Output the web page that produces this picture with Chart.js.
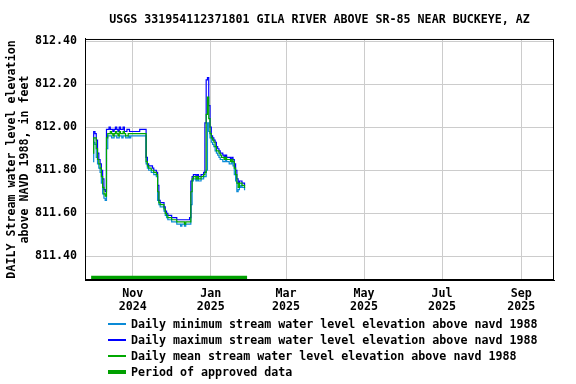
<!DOCTYPE html>
<html>
<head>
<meta charset="utf-8">
<script src="https://cdn.jsdelivr.net/npm/chart.js@4/dist/chart.umd.min.js"></script>
<style>
  body { margin: 0; background: #fff; }
  #wrap { position: relative; width: 576px; height: 384px; }
  #legend { position: absolute; left: 108px; top: 316px; font: bold 11.65px "DejaVu Sans Mono", monospace; color: #000; }
  .row { display: flex; align-items: center; height: 16px; white-space: nowrap; }
  .swatch { width: 18px; margin-right: 5px; }
</style>
</head>
<body>
<div id="wrap">
  <canvas id="myChart" width="576" height="384"></canvas>
  <div id="legend"></div>
</div>
<script>
// days counted from Oct 1 2024 (day 0)
const firstDay = 0;

const meanLevel = [
  811.88, 811.95, 811.95, 811.90, 811.85, 811.83, 811.81, 811.77, 811.72, 811.69,
  811.68, 811.95, 811.97, 811.97, 811.98, 811.97, 811.96, 811.97, 811.98, 811.97,
  811.96, 811.98, 811.97, 811.97, 811.98, 811.97, 811.96, 811.96, 811.97, 811.97,
  811.97, 811.97, 811.97, 811.97, 811.97, 811.97, 811.97, 811.97, 811.97, 811.97,
  811.97, 811.97, 811.84, 811.82, 811.81, 811.81, 811.80, 811.80, 811.79, 811.79,
  811.78, 811.70, 811.65, 811.64, 811.64, 811.64, 811.62, 811.60, 811.59, 811.58,
  811.58, 811.58, 811.57, 811.57, 811.57, 811.57, 811.56, 811.56, 811.56, 811.56,
  811.56, 811.56, 811.55, 811.56, 811.56, 811.56, 811.56, 811.70, 811.76, 811.77,
  811.77, 811.76, 811.77, 811.76, 811.76, 811.77, 811.77, 811.78, 811.79, 812.06,
  812.14, 812.04, 811.97, 811.95, 811.94, 811.93, 811.91, 811.89, 811.89, 811.88,
  811.87, 811.86, 811.86, 811.85, 811.86, 811.85, 811.85, 811.85, 811.84, 811.85,
  811.84, 811.81, 811.78, 811.74, 811.72, 811.74, 811.74, 811.73, 811.73, 811.72
];

const maxLevel = [
  811.93, 811.98, 811.97, 811.94, 811.88, 811.85, 811.83, 811.80, 811.76, 811.71,
  811.70, 811.99, 811.99, 812.00, 811.99, 811.99, 811.98, 811.99, 812.00, 811.99,
  811.98, 812.00, 811.99, 811.99, 812.00, 811.98, 811.98, 811.99, 811.99, 811.98,
  811.98, 811.98, 811.98, 811.98, 811.98, 811.98, 811.98, 811.99, 811.99, 811.99,
  811.99, 811.99, 811.86, 811.83, 811.82, 811.82, 811.82, 811.81, 811.80, 811.80,
  811.79, 811.73, 811.66, 811.65, 811.65, 811.65, 811.63, 811.61, 811.60, 811.59,
  811.59, 811.59, 811.58, 811.58, 811.58, 811.58, 811.57, 811.57, 811.57, 811.57,
  811.57, 811.57, 811.57, 811.57, 811.57, 811.57, 811.58, 811.75, 811.77, 811.78,
  811.78, 811.77, 811.78, 811.77, 811.77, 811.78, 811.78, 811.79, 812.02, 812.22,
  812.23, 812.10, 812.00, 811.96, 811.95, 811.94, 811.93, 811.91, 811.90, 811.89,
  811.88, 811.88, 811.87, 811.86, 811.87, 811.86, 811.86, 811.86, 811.85, 811.86,
  811.85, 811.83, 811.80, 811.76, 811.74, 811.75, 811.75, 811.74, 811.74, 811.73
];

const minLevel = [
  811.84, 811.93, 811.92, 811.86, 811.83, 811.81, 811.79, 811.74, 811.69, 811.67,
  811.66, 811.90, 811.96, 811.96, 811.96, 811.95, 811.95, 811.96, 811.96, 811.95,
  811.95, 811.96, 811.96, 811.95, 811.96, 811.96, 811.95, 811.95, 811.96, 811.95,
  811.96, 811.96, 811.96, 811.96, 811.96, 811.96, 811.96, 811.96, 811.96, 811.96,
  811.96, 811.96, 811.83, 811.81, 811.80, 811.80, 811.79, 811.79, 811.78, 811.78,
  811.77, 811.66, 811.64, 811.63, 811.63, 811.63, 811.61, 811.59, 811.58, 811.57,
  811.57, 811.57, 811.56, 811.56, 811.56, 811.56, 811.55, 811.55, 811.55, 811.54,
  811.55, 811.55, 811.54, 811.55, 811.55, 811.55, 811.55, 811.64, 811.75, 811.76,
  811.76, 811.75, 811.76, 811.75, 811.75, 811.76, 811.76, 811.77, 811.77, 811.80,
  812.02, 811.98, 811.95, 811.93, 811.92, 811.91, 811.89, 811.88, 811.87, 811.86,
  811.85, 811.85, 811.84, 811.84, 811.85, 811.84, 811.84, 811.83, 811.83, 811.84,
  811.82, 811.78, 811.75, 811.70, 811.71, 811.72, 811.73, 811.72, 811.72, 811.71
];

// approved period, Sep 30 2024 .. Jan 29 2025
const approvedDays = [-1.5, 120.5];
const approvedLevel = 811.30;

const monthDays = [31, 92, 151, 212, 273, 335];
const monthLabels = [["Nov", "2024"], ["Jan", "2025"], ["Mar", "2025"], ["May", "2025"], ["Jul", "2025"], ["Sep", "2025"]];
const yTicks = [811.40, 811.60, 811.80, 812.00, 812.20, 812.40];

const xMin = -6.3, xMax = 360.6;
const yMin = 811.29, yMax = 812.41;

const fontFam = '"DejaVu Sans Mono", monospace';
const font = { family: fontFam, size: 11.65, weight: "bold" };

function toPoints(arr) {
  return arr.map((v, i) => ({ x: firstDay + i, y: v }));
}

const series = [
  { label: "Daily minimum stream water level elevation above navd 1988", data: toPoints(minLevel), color: "#0a8ad6", width: 1, order: 3 },
  { label: "Daily maximum stream water level elevation above navd 1988", data: toPoints(maxLevel), color: "#0000ff", width: 1, order: 2 },
  { label: "Daily mean stream water level elevation above navd 1988", data: toPoints(meanLevel), color: "#00a800", width: 1, order: 1 },
  { label: "Period of approved data", data: approvedDays.map((d) => ({ x: d, y: approvedLevel })), color: "#00a000", width: 4, order: 4 },
];

const framePlugin = {
  id: "frame",
  afterDraw(chart) {
    const { ctx, chartArea: a } = chart;
    ctx.save();
    ctx.strokeStyle = "#000";
    ctx.lineWidth = 1;
    ctx.strokeRect(a.left + 0.5, a.top + 0.5, a.right - a.left - 1, a.bottom - a.top - 1);
    ctx.restore();
  },
};

const ctx = document.getElementById("myChart").getContext("2d");
const myChart = new Chart(ctx, {
  type: "line",
  data: {
    datasets: series.map((s) => ({
      label: s.label,
      data: s.data,
      borderColor: s.color,
      backgroundColor: s.color,
      borderWidth: s.width === 1 ? 1.2 : s.width,
      pointRadius: 0,
      tension: 0,
      stepped: s.width === 1 ? "middle" : false,
      order: s.order,
    })),
  },
  options: {
    responsive: false,
    animation: false,
    layout: { padding: { left: 0, right: 22, top: 0, bottom: 64 } },
    plugins: {
      legend: { display: false },
      tooltip: { enabled: false },
      title: {
        display: true,
        text: "USGS 331954112371801 GILA RIVER ABOVE SR-85 NEAR BUCKEYE, AZ",
        fullSize: false,
        color: "#000",
        font: font,
        padding: { top: 13, bottom: 12 },
      },
    },
    scales: {
      x: {
        type: "linear",
        min: xMin,
        max: xMax,
        afterBuildTicks: (s) => { s.ticks = monthDays.map((v) => ({ value: v })); },
        afterFit: (s) => { s.height = 40; },
        ticks: {
          autoSkip: false,
          maxRotation: 0,
          padding: 7,
          color: "#000",
          font: { family: fontFam, size: 11.65, weight: "bold", lineHeight: 1.16 },
          callback: (v, i) => monthLabels[i],
        },
        grid: { color: "#cccccc", drawTicks: false },
        border: { color: "#000" },
      },
      y: {
        min: yMin,
        max: yMax,
        afterBuildTicks: (s) => { s.ticks = yTicks.map((v) => ({ value: v })); },
        afterFit: (s) => { s.width = 85; },
        ticks: {
          padding: 8,
          color: "#000",
          font: font,
          callback: (v) => v.toFixed(2),
        },
        grid: { color: "#cccccc", drawTicks: false },
        border: { color: "#000" },
        title: {
          display: true,
          text: ["DAILY Stream water level elevation", "above NAVD 1988, in feet"],
          color: "#000",
          font: { family: fontFam, size: 11.65, weight: "bold", lineHeight: 1.15 },
          padding: { top: 5, bottom: 0 },
        },
      },
    },
  },
  plugins: [framePlugin],
});

// legend below the plot
const legend = document.getElementById("legend");
series.forEach((s) => {
  const row = document.createElement("div");
  row.className = "row";
  const sw = document.createElement("span");
  sw.className = "swatch";
  sw.style.height = (s.width === 1 ? 2 : 4) + "px";
  sw.style.background = s.color;
  const txt = document.createElement("span");
  txt.textContent = s.label;
  row.appendChild(sw);
  row.appendChild(txt);
  legend.appendChild(row);
});
</script>
</body>
</html>
